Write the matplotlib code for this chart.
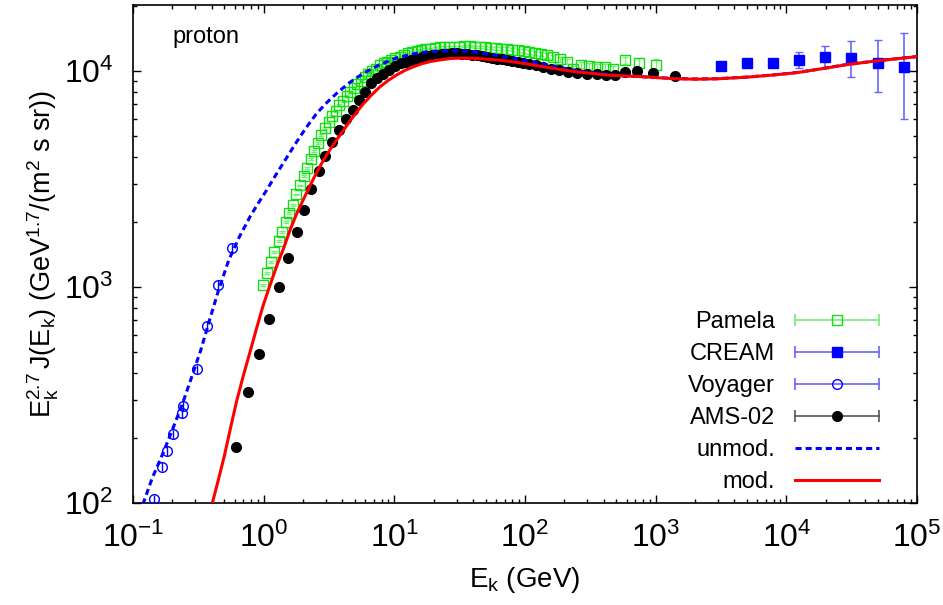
import matplotlib
matplotlib.use("Agg")
import matplotlib.pyplot as plt
from matplotlib.lines import Line2D
from matplotlib.legend_handler import HandlerLine2D, HandlerTuple
from matplotlib.ticker import NullFormatter, LogLocator

plt.rcParams["font.family"] = ["Liberation Sans", "DejaVu Sans"]
plt.rcParams["mathtext.fontset"] = "custom"
plt.rcParams["mathtext.rm"] = "Liberation Sans"
plt.rcParams["mathtext.it"] = "Liberation Sans:italic"
plt.rcParams["mathtext.default"] = "regular"
plt.rcParams["axes.unicode_minus"] = False

# ---------------- data: Ek [GeV], Ek^2.7 * flux ----------------
pamela_e = [0.98, 1.06, 1.14, 1.21, 1.30, 1.38, 1.47, 1.57, 1.67, 1.78, 1.90, 2.02,
            2.15, 2.29, 2.44, 2.60, 2.77, 2.95, 3.14, 3.35, 3.57, 3.80, 4.05, 4.32,
            4.60, 4.90, 5.22, 5.57, 5.94, 6.34, 6.77, 7.23, 7.73, 8.27, 8.85, 9.48,
            10.2, 11.0, 11.8, 12.7, 13.7, 14.8, 16.0, 17.3, 18.8, 20.4, 22.2, 24.2,
            26.4, 28.8, 31.5, 34.4, 37.7, 41.3, 45.3, 49.7, 54.6, 60.0, 66.0, 72.7,
            80.1, 88.4, 97.6, 108, 120, 133, 148, 165, 185, 208, 235, 268, 308, 355,
            410, 475, 582, 745, 1007]
pamela_f = [1018, 1156, 1305, 1453, 1628, 1804, 1995, 2210, 2400, 2680, 2950, 3250,
            3570, 3900, 4280, 4650, 5050, 5450, 5800, 6200, 6550, 6950, 7250, 7650,
            8000, 8350, 8700, 9000, 9350, 9650, 9950, 10250, 10650, 10850, 11050, 11250,
            11450, 11650, 11850, 12050, 12200, 12350, 12500, 12600, 12700, 12800, 12850, 12900,
            12950, 12950, 12950, 13000, 13000, 12950, 12900, 12850, 12800, 12750, 12700, 12650,
            12550, 12450, 12350, 12250, 12150, 12000, 11800, 11550, 11300, 11050, 10200, 10650,
            10500, 10450, 10400, 10200, 11200, 10900, 10600]
pamela_err = [10, 12, 13, 14, 16, 18, 20, 22, 24, 27, 30, 32,
              36, 39, 43, 46, 50, 55, 58, 62, 66, 70, 72, 77,
              80, 84, 87, 90, 94, 97, 100, 103, 107, 109, 111, 113,
              115, 117, 119, 121, 122, 124, 125, 126, 127, 128, 130, 132,
              135, 138, 142, 146, 150, 155, 160, 166, 172, 180, 188, 196,
              205, 215, 225, 235, 245, 255, 265, 275, 285, 295, 305, 320,
              335, 350, 370, 390, 450, 550, 700]

cream_e = [3160, 5020, 7940, 12600, 19900, 31400, 50600, 80000]
cream_f = [10500, 10900, 10900, 11200, 11600, 11500, 10900, 10400]
cream_lo = [200, 250, 300, 900, 1300, 2150, 2950, 4400]
cream_hi = [200, 250, 300, 1000, 1400, 2200, 3000, 4600]

voyager_e = [0.145, 0.166, 0.183, 0.201, 0.236, 0.243, 0.307, 0.371, 0.450, 0.569]
voyager_f = [104, 147, 174, 208, 260, 282, 416, 662, 1021, 1520]
voyager_err = [5, 7, 9, 10, 13, 14, 21, 33, 51, 76]

ams_e = [0.614, 0.755, 0.927, 1.105, 1.318, 1.545, 1.79, 2.05, 2.31, 2.64, 2.97, 3.35,
         3.78, 4.26, 4.80, 5.35, 5.95, 6.65, 7.40, 8.25, 9.15, 10.1, 11.2, 12.3,
         13.5, 14.8, 16.2, 17.8, 19.5, 21.3, 23.3, 25.5, 27.8, 30.4, 33.2, 36.2,
         39.5, 43.1, 47.0, 51.3, 56.0, 61.1, 66.8, 73.0, 80.0, 88.0, 97.0, 108,
         121, 137, 157, 182, 213, 252, 300, 355, 415, 490, 580, 720, 950, 1406]
ams_f = [182, 327, 490, 711, 1002, 1367, 1804, 2270, 2830, 3440, 4060, 4710,
         5330, 5970, 6620, 7300, 8000, 8770, 9300, 9700, 10100, 10500, 10850, 11050,
         11250, 11400, 11550, 11700, 11800, 11900, 11950, 12000, 12050, 12050, 12000, 11950,
         11900, 11800, 11700, 11600, 11500, 11400, 11300, 11200, 11100, 11000, 10900, 10800,
         10650, 10450, 10250, 10050, 9900, 9800, 9700, 9700, 9600, 9580, 9880, 9950, 9750, 9520]

unmod_e = [0.11, 0.12, 0.14, 0.171, 0.20, 0.24, 0.28, 0.33, 0.39, 0.45, 0.54, 0.65,
           0.786, 0.90, 1.055, 1.2, 1.41, 1.65, 1.90, 2.2, 2.55, 3.0, 3.62, 4.5,
           5.79, 7.5, 10.4, 14.0, 18.8, 25.0, 33.0, 45.0, 60.0, 80.0, 110, 150,
           220, 330, 500, 800, 1400, 2060, 3000, 5000, 8000, 12000, 18000, 29000,
           50000, 100000]
unmod_f = [80, 100, 130, 172, 218, 290, 380, 510, 720, 960, 1330, 1700,
           2114, 2420, 2810, 3200, 3740, 4350, 4970, 5650, 6370, 7080, 7880, 8800,
           9750, 10600, 11500, 12000, 12300, 12400, 12400, 12150, 11800, 11450, 11050, 10650,
           10150, 9800, 9550, 9400, 9230, 9180, 9210, 9370, 9590, 9830, 10210, 10710,
           11160, 11660]

mod_e = [0.38, 0.405, 0.45, 0.50, 0.56, 0.62, 0.70, 0.786, 0.88, 0.99, 1.10, 1.27,
         1.41, 1.59, 1.78, 2.0, 2.3, 2.55, 2.86, 3.2, 3.62, 4.07, 4.6, 5.2,
         5.8, 6.7, 7.77, 9.0, 10.4, 12.0, 13.95, 16.2, 18.8, 22.3, 27.0, 33.0,
         40.0, 50.0, 60.0, 72.0, 90.0, 109, 130, 170, 234, 320, 420, 600,
         760, 1000, 1406, 2060, 3000, 5000, 8000, 12000, 18000, 29000, 50000, 100000]
mod_f = [85, 100, 128, 165, 225, 295, 390, 500, 640, 820, 990, 1270,
         1490, 1830, 2170, 2520, 3000, 3400, 3850, 4300, 4800, 5300, 5900, 6500,
         7050, 7750, 8450, 9050, 9580, 10050, 10450, 10800, 11050, 11250, 11420, 11480,
         11450, 11350, 11250, 11120, 10920, 10720, 10520, 10250, 9950, 9750, 9580, 9470,
         9420, 9320, 9200, 9160, 9200, 9360, 9580, 9820, 10200, 10700, 11150, 11650]

x_major = [1e-1, 1e0, 1e1, 1e2, 1e3, 1e4, 1e5]
y_major = [1e2, 1e3, 1e4]

legend_labels = ["Pamela", "CREAM", "Voyager", "AMS-02", "unmod.", "mod."]

# ---------------- style ----------------
green = "#11dd11"
green_err = "#77ee77"
blue = "#0000ff"
blue_err = "#6666ff"
red = "#ff0000"

fig = plt.figure(figsize=(9.43, 6.05), dpi=100)
ax = fig.add_axes([133 / 943, 1 - 503 / 605, 784 / 943, 498 / 605])
ax.set_xscale("log")
ax.set_yscale("log")

ax.errorbar(pamela_e, pamela_f, yerr=pamela_err, fmt="s", ms=7.7, mfc="none",
            mec=green, mew=1.0, ecolor=green_err, elinewidth=1.0, capsize=2.5, zorder=2)
ax.errorbar(cream_e, cream_f, yerr=[cream_lo, cream_hi], fmt="s", ms=7.7, mfc=blue,
            mec=blue, ecolor=blue_err, elinewidth=1.2, capsize=3, zorder=3)
ax.errorbar(voyager_e, voyager_f, yerr=voyager_err, fmt="o", ms=7, mfc="none",
            mec=blue, mew=1.0, ecolor=blue, elinewidth=1.0, capsize=0, zorder=3)
ax.plot(ams_e, ams_f, "o", ms=7, color="black", zorder=4)
ax.plot(unmod_e, unmod_f, color=blue, lw=2.2, dashes=(2.0, 1.3), zorder=5)
ax.plot(mod_e, mod_f, color=red, lw=2.2, zorder=6)

# axes styling
ax.set_xticks(x_major)
ax.set_yticks(y_major)
for axis in (ax.xaxis, ax.yaxis):
    axis.set_minor_locator(LogLocator(base=10, subs=range(2, 10), numticks=20))
    axis.set_minor_formatter(NullFormatter())
ax.set_xlim(0.1, 1e5)
ax.set_ylim(100, 20200)
for sp in ax.spines.values():
    sp.set_linewidth(1.2)
ax.tick_params(which="both", direction="in", top=True, right=True, width=1.0,
               labelsize=23)
ax.tick_params(which="major", length=6)
ax.tick_params(which="minor", length=3)
ax.tick_params(axis="x", pad=14)
ax.tick_params(axis="y", pad=14)

ax.set_xlabel(r"$E_k$ (GeV)", fontsize=20, labelpad=8)
ax.set_ylabel(r"$E_k^{2.7}\,J(E_k)$ (GeV$^{1.7}$/(m$^2$ s sr))", fontsize=19.5, labelpad=2)
ax.text(0.05, 0.936, "proton", transform=ax.transAxes, fontsize=17, va="center", ha="left")

# legend: errorbar-style samples
def cap_line(c):
    return Line2D([], [], color=c, lw=1.2, marker="|", ms=8, mew=1.2)

caps = [cap_line(green_err), cap_line(blue_err), cap_line(blue_err), cap_line("#555555")]
marks = [Line2D([], [], ls="none", marker="s", ms=7.7, mfc="none", mec=green, mew=1.0),
         Line2D([], [], ls="none", marker="s", ms=7.7, mfc=blue, mec=blue),
         Line2D([], [], ls="none", marker="o", ms=7, mfc="none", mec=blue, mew=1.0),
         Line2D([], [], ls="none", marker="o", ms=7, color="black")]
handles = [(c, m) for c, m in zip(caps, marks)]
handles.append(Line2D([], [], color=blue, lw=2.2, dashes=(2.0, 1.3)))
handles.append(Line2D([], [], color=red, lw=2.2))
hmap = {c: HandlerLine2D(numpoints=2, marker_pad=0.0) for c in caps}
hmap[tuple] = HandlerTuple(ndivide=1)
ax.legend(handles, legend_labels, handler_map=hmap, loc="lower right",
          bbox_to_anchor=(0.9515, 0.02), frameon=False, markerfirst=False,
          fontsize=17, handlelength=3.56, handletextpad=0.85, labelspacing=0.42,
          borderpad=0.0, borderaxespad=0.0)

fig.savefig("out.png", dpi=100)
